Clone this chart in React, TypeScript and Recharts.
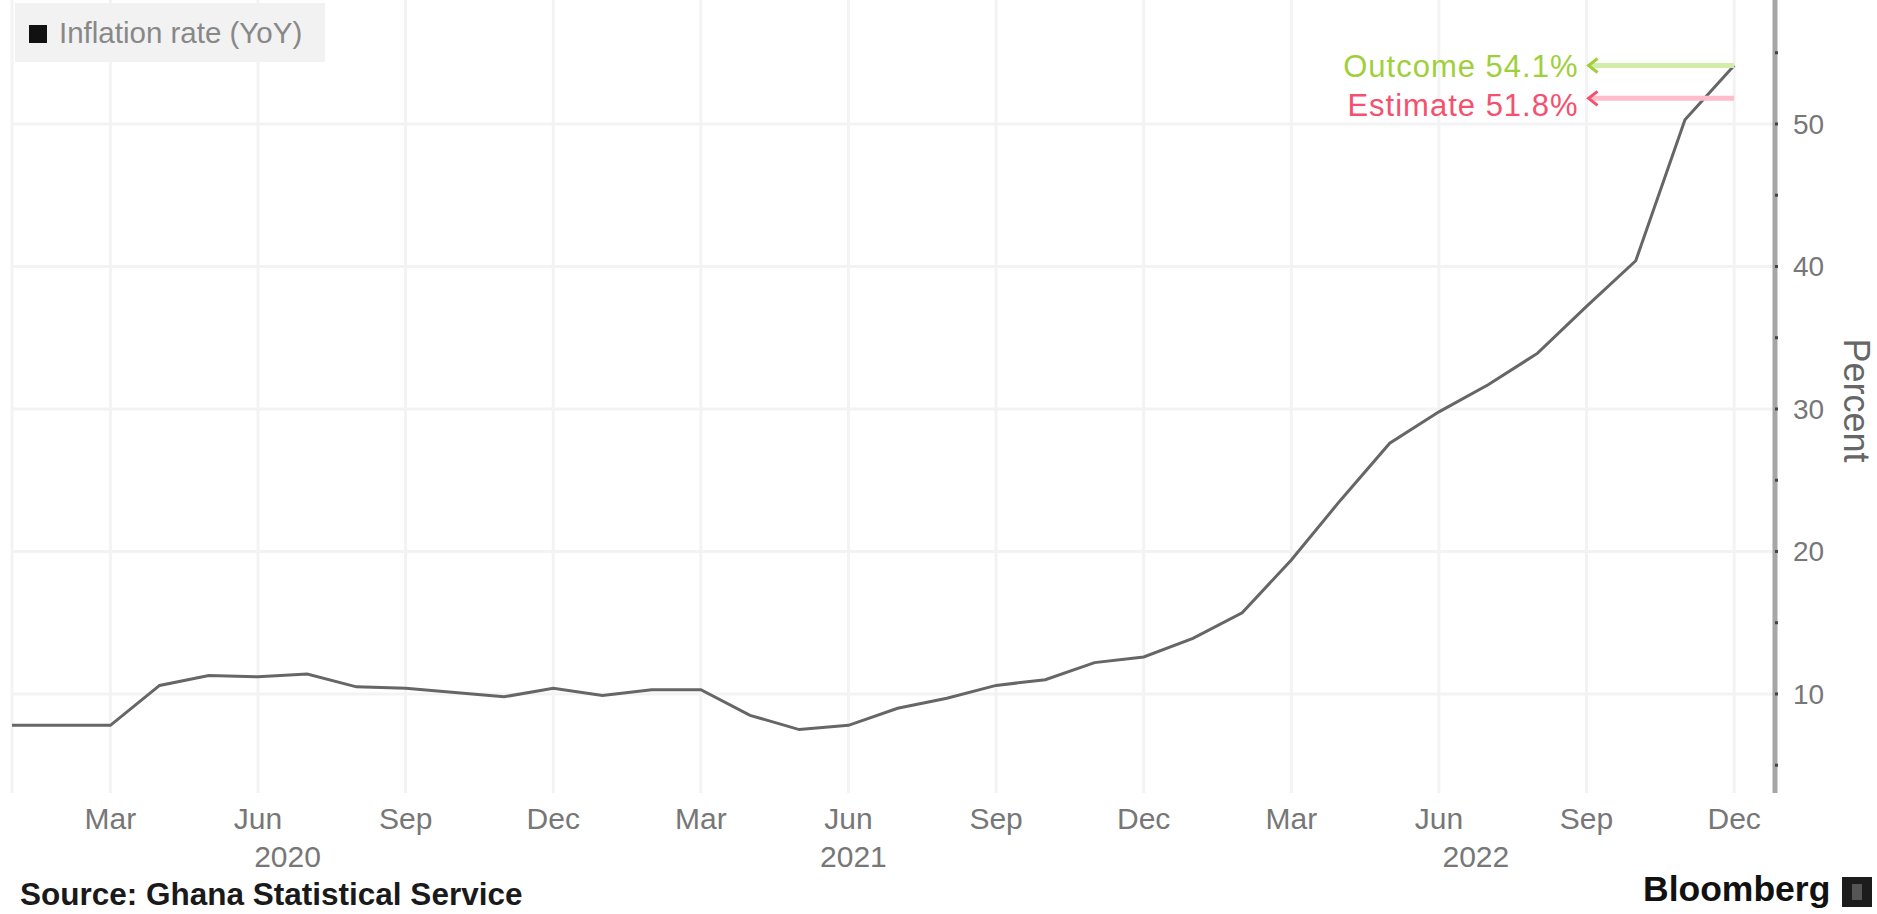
import { LineChart, Line, XAxis, YAxis, CartesianGrid, ReferenceLine, Label } from 'recharts';

const months = [
  '2020-01', '2020-02', '2020-03', '2020-04', '2020-05', '2020-06',
  '2020-07', '2020-08', '2020-09', '2020-10', '2020-11', '2020-12',
  '2021-01', '2021-02', '2021-03', '2021-04', '2021-05', '2021-06',
  '2021-07', '2021-08', '2021-09', '2021-10', '2021-11', '2021-12',
  '2022-01', '2022-02', '2022-03', '2022-04', '2022-05', '2022-06',
  '2022-07', '2022-08', '2022-09', '2022-10', '2022-11', '2022-12',
];

const inflation = [
  7.8, 7.8, 7.8, 10.6, 11.3, 11.2, 11.4, 10.5, 10.4, 10.1, 9.8, 10.4,
  9.9, 10.3, 10.3, 8.5, 7.5, 7.8, 9.0, 9.7, 10.6, 11.0, 12.2, 12.6,
  13.9, 15.7, 19.4, 23.6, 27.6, 29.8, 31.7, 33.9, 37.2, 40.4, 50.3, 54.1,
];

const monthNames = ['Jan', 'Feb', 'Mar', 'Apr', 'May', 'Jun', 'Jul', 'Aug', 'Sep', 'Oct', 'Nov', 'Dec'];
const yearLabels = ['2020', '2021', '2022'];
const yearLabelPos = [5.6, 17.1, 29.75];
const yTicks = [5, 10, 15, 20, 25, 30, 35, 40, 45, 50, 55];
const yGrid = [10, 20, 30, 40, 50];

const outcome = 54.1;
const estimate = 51.8;
const pointerStart = 32.0;

const data = months.map((m, i) => ({ i, v: inflation[i] }));
const quarterTicks = months.map((m, i) => i).filter((i) => Number(months[i].slice(5)) % 3 === 0);
const lastIdx = months.length - 1;

const font = "'Liberation Sans', Arial, sans-serif";

function Pointer(props: any) {
  const { x1, y1, x2, color, lineColor, text, textShift } = props;
  const tip = Math.min(x1, x2);
  const end = Math.max(x1, x2);
  return (
    <g>
      <line x1={tip + 4} y1={y1} x2={end} y2={y1} stroke={lineColor} strokeWidth={5} />
      <polyline
        points={`${tip + 11},${y1 - 7} ${tip + 2},${y1} ${tip + 11},${y1 + 7}`}
        fill="none"
        stroke={color}
        strokeWidth={3}
      />
      <text
        x={tip - 8}
        y={y1 + textShift}
        textAnchor="end"
        dominantBaseline="central"
        fill={color}
        fontSize={31}
        letterSpacing={1}
      >
        {text}
      </text>
    </g>
  );
}

export default function App() {
  return (
    <div style={{ position: 'absolute', left: 0, top: 0, width: 1877, height: 914, fontFamily: font, background: '#fff' }}>
      <LineChart width={1877} height={914} data={data} margin={{ top: 0, right: 12, left: 12, bottom: 39 }}>
        <CartesianGrid stroke="#f3f3f3" strokeWidth={3} horizontalValues={yGrid} />
        <XAxis
          dataKey="i"
          type="number"
          domain={[0, 35.83]}
          allowDataOverflow
          ticks={quarterTicks}
          interval={0}
          tickFormatter={(i) => monthNames[Number(months[i].slice(5)) - 1]}
          axisLine={false}
          tickLine={false}
          tickMargin={9}
          height={42}
          tick={{ fill: '#777', fontSize: 30 }}
        />
        <XAxis
          xAxisId="year"
          dataKey="i"
          type="number"
          domain={[0, 35.83]}
          allowDataOverflow
          ticks={yearLabelPos}
          interval={0}
          tickFormatter={(p) => yearLabels[yearLabelPos.indexOf(p)]}
          axisLine={false}
          tickLine={false}
          tickMargin={5}
          height={40}
          tick={{ fill: '#777', fontSize: 30 }}
        />
        <YAxis
          orientation="right"
          width={90}
          domain={[3.05, 58.7]}
          allowDataOverflow
          ticks={yTicks}
          interval={0}
          tickFormatter={(v) => (v % 10 === 0 ? String(v) : '')}
          axisLine={{ stroke: '#a6a6a6', strokeWidth: 5 }}
          tickLine={{ stroke: '#444', strokeWidth: 3 }}
          tickSize={3}
          tickMargin={15}
          tick={{ fill: '#777', fontSize: 28 }}
        >
          <Label
            content={({ viewBox }: any) => {
              const cx = viewBox.x + 81;
              const cy = viewBox.y + viewBox.height / 2 + 4;
              return (
                <text x={cx} y={cy} transform={`rotate(90, ${cx}, ${cy})`} textAnchor="middle" dominantBaseline="central" fill="#666" fontSize={36}>
                  Percent
                </text>
              );
            }}
          />
        </YAxis>
        <Line type="linear" dataKey="v" stroke="#666" strokeWidth={3} dot={false} isAnimationActive={false} />
        <ReferenceLine
          segment={[{ x: pointerStart, y: outcome }, { x: lastIdx, y: outcome }]}
          shape={(p: any) => <Pointer {...p} color="#9fd03c" lineColor="#d2ecaa" textShift={1} text={`Outcome ${outcome}%`} />}
        />
        <ReferenceLine
          segment={[{ x: pointerStart, y: estimate }, { x: lastIdx, y: estimate }]}
          shape={(p: any) => <Pointer {...p} color="#f5506e" lineColor="#ffbccb" textShift={7} text={`Estimate ${estimate}%`} />}
        />
      </LineChart>

      <div style={{ position: 'absolute', left: 15, top: 3, width: 310, height: 59, background: '#f2f2f2' }}>
        <div style={{ position: 'absolute', left: 14, top: 22, width: 18, height: 18, background: '#111' }} />
        <div style={{ position: 'absolute', left: 44, top: 15, fontSize: 29.5, lineHeight: '30px', color: '#888' }}>
          Inflation rate (YoY)
        </div>
      </div>

      <div style={{ position: 'absolute', left: 20, top: 878, fontSize: 31.5, lineHeight: '32px', fontWeight: 700, color: '#1a1a1a' }}>
        Source: Ghana Statistical Service
      </div>
      <div style={{ position: 'absolute', left: 1643, top: 871, fontSize: 35.5, lineHeight: '36px', fontWeight: 700, color: '#111' }}>
        Bloomberg
      </div>
      <div style={{ position: 'absolute', left: 1842, top: 877, width: 30, height: 30, background: '#1c1c1c' }}>
        <div style={{ position: 'absolute', left: 10, top: 7, width: 10, height: 16, background: '#555' }} />
      </div>
    </div>
  );
}
